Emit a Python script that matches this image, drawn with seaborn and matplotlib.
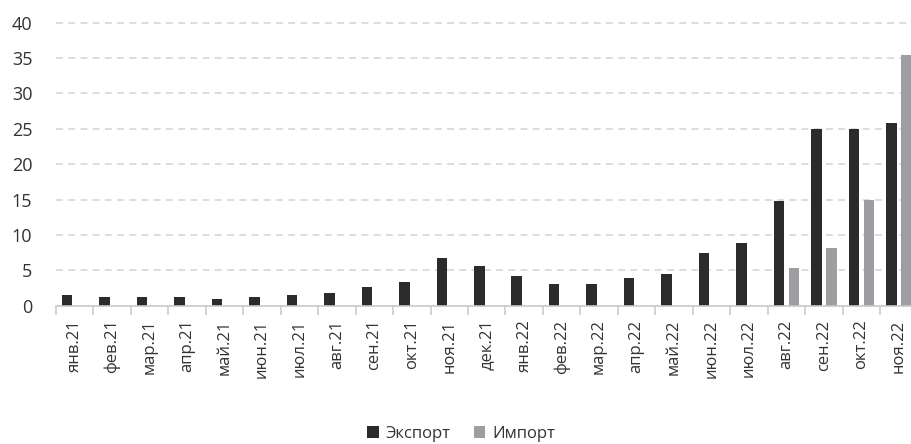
import numpy as np
import pandas as pd
import matplotlib
matplotlib.use("Agg")
import matplotlib.pyplot as plt
from matplotlib.patches import Patch
from matplotlib.ticker import FixedLocator
import seaborn as sns

months = ["янв.21", "фев.21", "мар.21", "апр.21", "май.21", "июн.21",
          "июл.21", "авг.21", "сен.21", "окт.21", "ноя.21", "дек.21",
          "янв.22", "фев.22", "мар.22", "апр.22", "май.22", "июн.22",
          "июл.22", "авг.22", "сен.22", "окт.22", "ноя.22"]
export_vals = [1.5, 1.2, 1.2, 1.2, 0.9, 1.2, 1.5, 1.75, 2.6, 3.4, 6.7, 5.6,
               4.2, 3.1, 3.1, 3.9, 4.5, 7.5, 8.9, 14.75, 25.0, 25.0, 25.8]
import_vals = [np.nan] * 19 + [5.3, 8.1, 15.0, 35.5]
series_names = ["Экспорт", "Импорт"]
colors = ["#2c2b2c", "#9d9ea2"]
y_ticks = [0, 5, 10, 15, 20, 25, 30, 35, 40]

df = pd.DataFrame({
    "month": months * 2,
    "value": export_vals + import_vals,
    "series": [series_names[0]] * len(months) + [series_names[1]] * len(months),
})

sns.set_theme(style="white")
plt.rcParams["font.family"] = ["Open Sans", "DejaVu Sans"]

fig = plt.figure(figsize=(9.11, 4.44), dpi=100)
ax = fig.add_axes([56 / 911, 1 - 305.7 / 444, 861.5 / 911, 283 / 444])

sns.barplot(data=df, x="month", y="value", hue="series", order=months,
            hue_order=series_names, palette=colors, width=0.8, gap=0.3,
            saturation=1, legend=False, ax=ax, linewidth=0)

ax.set_ylim(0, 40)
ax.set_xlim(-0.5, len(months) - 0.5)
ax.set_yticks(y_ticks)
ax.set_yticklabels([str(v) for v in y_ticks], fontsize=13, color="#333333")
for v in y_ticks[1:]:
    ax.axhline(v, color="#d3d3d3", linewidth=1.1, dashes=(4.5, 3.5), zorder=0,
               clip_on=False)

ax.set_xlabel("")
ax.set_ylabel("")
for s in ["top", "right", "left"]:
    ax.spines[s].set_visible(False)
ax.spines["bottom"].set_color("#c8c8c8")
ax.spines["bottom"].set_linewidth(1.2)

ax.set_xticks(range(len(months)))
ax.set_xticklabels(months, rotation=90, fontsize=12, color="#333333")
ax.xaxis.set_minor_locator(FixedLocator(np.arange(-0.5, len(months), 1.0)))
ax.tick_params(axis="x", which="major", length=0, pad=10)
ax.tick_params(axis="x", which="minor", length=6.5, width=1.1, color="#c8c8c8",
               bottom=True)
ax.tick_params(axis="y", length=0, pad=17)

handles = [Patch(facecolor=c, edgecolor="none", label=n)
           for c, n in zip(colors, series_names)]
fig.legend(handles=handles, loc="center", bbox_to_anchor=(0.506, 1 - 434 / 444),
           ncol=2, frameon=False, fontsize=12, handlelength=0.7,
           handleheight=0.7, handletextpad=0.4, columnspacing=1.4,
           labelcolor="#333333", borderpad=0.2)

fig.savefig("out.png", dpi=100)
